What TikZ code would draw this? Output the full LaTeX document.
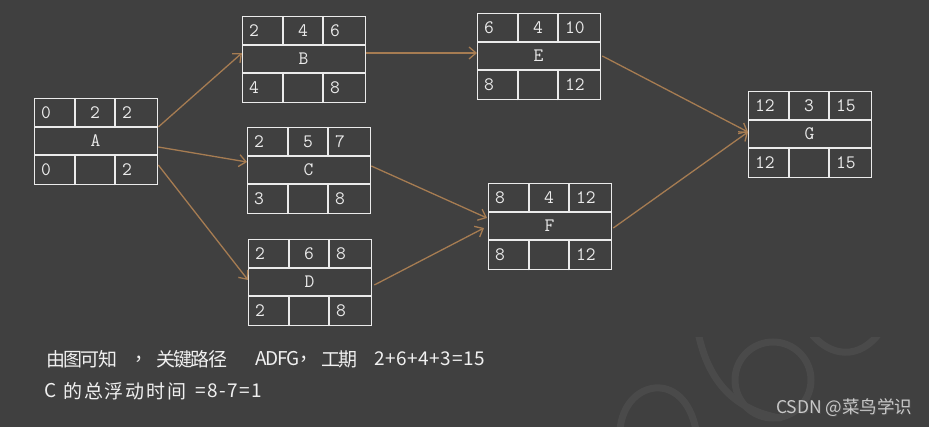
\documentclass[tikz,border=0pt]{standalone}
\usepackage{fontspec}
\newfontfamily\cjk{Noto Sans CJK SC}
\usetikzlibrary{arrows.meta,calc}
\definecolor{bg}{HTML}{404040}
\definecolor{boxc}{HTML}{EBEBEB}
\definecolor{arr}{HTML}{A67C52}
\definecolor{wm}{HTML}{4A4A4A}
\definecolor{mark}{HTML}{C8C8C8}
\tikzset{
  actbox/.style={draw=boxc, line width=1.3pt, minimum width=123pt, minimum height=86pt, inner sep=0pt, anchor=north west},
  rule/.style={draw=boxc, line width=1.3pt},
  cell/.style={text=boxc, font=\fontsize{19}{19}\selectfont\ttfamily, inner sep=1pt},
  flow/.style={draw=arr, line width=1.3pt, -{Straight Barb[length=7pt,width=12pt,line width=1.3pt]}},
  note/.style={text=white!94!black, font=\cjk\fontsize{19}{19}\selectfont, anchor=west, inner sep=0pt},
  wmline/.style={draw=wm, line width=7pt, line cap=round},
}
\newcommand\actnode[9]{%
  \node[actbox] (#1) at (#2,#3) {};
  \draw[rule] ($(#1.north west)+(0,29)$) -- ($(#1.north east)+(0,29)$)
    ($(#1.north west)+(0,57)$) -- ($(#1.north east)+(0,57)$)
    ($(#1.north west)+(41,0)$) -- ($(#1.north west)+(41,29)$)
    ($(#1.north west)+(81,0)$) -- ($(#1.north west)+(81,29)$)
    ($(#1.south west)+(41,0)$) -- ($(#1.south west)+(41,-29)$)
    ($(#1.south west)+(81,0)$) -- ($(#1.south west)+(81,-29)$);
  \node[cell, anchor=west] (#1-es) at ($(#1.north west)+(6,14.5)$) {#4};
  \node[cell] (#1-du) at ($(#1.north west)+(61,14.5)$) {#5};
  \node[cell, anchor=west] (#1-ef) at ($(#1.north west)+(87,14.5)$) {#6};
  \node[cell] (#1-nm) at ($(#1.north west)+(61.5,43)$) {#7};
  \node[cell, anchor=west] (#1-ls) at ($(#1.north west)+(6,71.5)$) {#8};
  \node[cell, anchor=west] (#1-lf) at ($(#1.north west)+(87,71.5)$) {#9};
}
\begin{document}
\begin{tikzpicture}[x=1pt, y=-1pt]
\useasboundingbox (0,0) rectangle (929,427);
\fill[bg] (0,0) rectangle (929,427);
% watermark strokes
\begin{scope}
  \clip (600,338) rectangle (929,427);
  \draw[wmline] (773,380) ellipse (38 and 38);
  \draw[wmline] (698,332) .. controls (708,382) and (735,410) .. (780,418);
  \draw[wmline] (810,332) .. controls (830,358) and (860,360) .. (880,332);
  \draw[wmline] (620,430) .. controls (624,380) and (684,368) .. (696,430);
\end{scope}
% activity boxes
\actnode{A}{34}{98}{0}{2}{2}{A}{0}{2}
\actnode{B}{242}{16}{2}{4}{6}{B}{4}{8}
\actnode{C}{247}{127}{2}{5}{7}{C}{3}{8}
\actnode{D}{248}{239}{2}{6}{8}{D}{2}{8}
\actnode{E}{477}{13}{6}{4}{10}{E}{8}{12}
\actnode{F}{488}{183}{8}{4}{12}{F}{8}{12}
\actnode{G}{748}{91}{12}{3}{15}{G}{12}{15}
% connectors
\draw[flow] ($(A.north east)+(0,29)$) -- ($(B.north west)+(0,37)$);
\draw[flow] ($(A.north east)+(0,49)$) -- ($(C.north west)+(0,35)$);
\draw[flow] ($(A.north east)+(0,67)$) -- ($(D.north west)+(0,41)$);
\draw[flow] ($(B.north east)+(0,37)$) -- ($(E.north west)+(0,40)$);
\draw[flow] ($(C.north east)+(0,39)$) -- ($(F.north west)+(-1,35)$);
\draw[flow] ($(D.north east)+(2,46)$) -- ($(F.north west)+(-4,45)$);
\draw[flow] ($(E.north east)+(1,43)$) -- ($(G.north west)+(0,41)$);
\draw[flow] ($(F.north east)+(1,45)$) -- ($(G.north west)+(0,41)$);
% notes
\node[note] (l1a) at (46,359) {\addfontfeature{LetterSpace=-9}由图可知};
\node[note] (l1b) at (134,359) {，};
\node[note] (l1c) at (156,359) {\addfontfeature{LetterSpace=-9}关键路径};
\node[note] (l1d) at (255,359) {\addfontfeature{LetterSpace=-7}ADFG};
\node[note] (l1e) at (299,359) {，};
\node[note] (l1f) at (321,359) {\addfontfeature{LetterSpace=-9}工期};
\node[note] (l1g) at (374,359) {\addfontfeature{LetterSpace=3}2+6+4+3=15};
\node[note] (l2a) at (44,391) {C};
\node[note] (l2b) at (63,391) {\addfontfeature{LetterSpace=10}的总浮动时间};
\node[note] (l2c) at (195,391) {\addfontfeature{LetterSpace=8}=8-7=1};
\node[text=black!70, font=\cjk\fontsize{17.5}{17.5}\selectfont, anchor=west, inner sep=0pt] (csdnsh) at (777,409) {CSDN @菜鸟学识};
\node[text=mark, font=\cjk\fontsize{17.5}{17.5}\selectfont, anchor=west, inner sep=0pt] (csdn) at (776,408) {CSDN @菜鸟学识};
\end{tikzpicture}
\end{document}
